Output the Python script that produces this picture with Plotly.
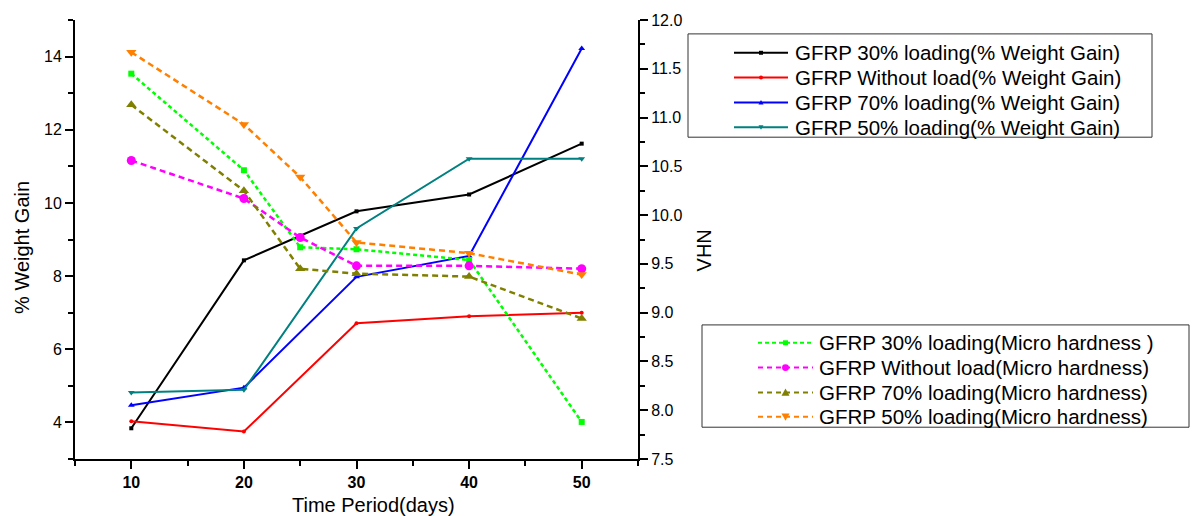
import plotly.graph_objects as go

# Sampling days
days_weight = [10, 20, 30, 40, 50]
days_hardness = [10, 20, 25, 30, 40, 50]

# % weight gain (left axis)
wg_30 = [3.84, 8.43, 9.77, 10.23, 11.62]
wg_none = [4.03, 3.75, 6.71, 6.90, 7.00]
wg_70 = [4.47, 4.95, 7.98, 8.55, 14.22]
wg_50 = [4.82, 4.89, 9.30, 11.21, 11.21]

# Micro hardness, VHN (right axis)
mh_30 = [11.45, 10.46, 9.67, 9.65, 9.54, 7.88]
mh_none = [10.56, 10.17, 9.77, 9.48, 9.48, 9.45]
mh_70 = [11.13, 10.25, 9.45, 9.40, 9.37, 8.94]
mh_50 = [11.67, 10.93, 10.39, 9.72, 9.61, 9.39]

FONT = "Liberation Sans, Arial, sans-serif"

# plot area in pixels (for paper-coordinate placement)
L, R, T, B = 75, 638, 17, 459
W, H = 1193, 516


def px(xp):
    return (xp - L) / (R - L)


def py(yp):
    return (B - yp) / (B - T)


fig = go.Figure()

weight_series = [
    ("GFRP 30% loading(% Weight Gain)", wg_30, "#000000", "square", 4),
    ("GFRP Without load(% Weight Gain)", wg_none, "#FF0000", "circle", 4),
    ("GFRP 70% loading(% Weight Gain)", wg_70, "#0000FF", "triangle-up", 6),
    ("GFRP 50% loading(% Weight Gain)", wg_50, "#008080", "triangle-down", 6),
]
for name, vals, color, sym, size in weight_series:
    fig.add_trace(go.Scatter(
        x=days_weight, y=vals, name=name, mode="lines+markers",
        line=dict(color=color, width=2),
        marker=dict(symbol=sym, size=size, color=color),
        yaxis="y",
    ))

hardness_series = [
    ("GFRP 30% loading(Micro hardness )", mh_30, "#00FF00", "square", 6, "4px,3px"),
    ("GFRP Without load(Micro hardness)", mh_none, "#FF00FF", "circle", 9, "6px,4px"),
    ("GFRP 70% loading(Micro hardness)", mh_70, "#808000", "triangle-up", 9, "6px,4px"),
    ("GFRP 50% loading(Micro hardness)", mh_50, "#FF8000", "triangle-down", 9, "6px,4px"),
]
for name, vals, color, sym, size, dash in hardness_series:
    fig.add_trace(go.Scatter(
        x=days_hardness, y=vals, name=name, mode="lines+markers",
        line=dict(color=color, width=2.5, dash=dash),
        marker=dict(symbol=sym, size=size, color=color),
        yaxis="y2",
    ))

axis_common = dict(
    showline=True, linecolor="black", linewidth=2,
    ticks="outside", tickcolor="black", tickwidth=2, ticklen=8,
    showgrid=False, zeroline=False,
    tickfont=dict(family=FONT, size=16, color="#000000"),
)

fig.update_layout(
    width=W, height=H,
    margin=dict(l=L, r=W - R, t=T, b=H - B, pad=0),
    paper_bgcolor="white", plot_bgcolor="white",
    font=dict(family=FONT, color="#000000"),
    showlegend=False,
    xaxis=dict(
        range=[5, 55], tick0=0, dtick=10,
        minor=dict(dtick=5, ticklen=5, tickwidth=2, tickcolor="black", ticks="outside"),
        **{**axis_common, "tickfont": dict(family=FONT, size=16, color="#000000", weight="bold")},
    ),
    yaxis=dict(
        range=[3, 15], tick0=0, dtick=2,
        minor=dict(dtick=1, ticklen=5, tickwidth=2, tickcolor="black", ticks="outside"),
        **axis_common,
    ),
    yaxis2=dict(
        range=[7.5, 12.0], tick0=7.5, dtick=0.5, tickformat=".1f",
        overlaying="y", side="right",
        minor=dict(dtick=0.25, ticklen=5, tickwidth=2, tickcolor="black", ticks="outside"),
        **axis_common,
    ),
)


def marker_shape(sym, cx, cy, s, color):
    """Small legend marker drawn in paper coordinates (s = half size in px)."""
    if sym == "square":
        return dict(type="rect", xref="paper", yref="paper",
                    x0=px(cx - s), x1=px(cx + s), y0=py(cy + s), y1=py(cy - s),
                    line=dict(width=0), fillcolor=color)
    if sym == "circle":
        return dict(type="circle", xref="paper", yref="paper",
                    x0=px(cx - s), x1=px(cx + s), y0=py(cy + s), y1=py(cy - s),
                    line=dict(width=0), fillcolor=color)
    d = -1 if sym == "triangle-up" else 1
    pts = [(cx, cy + d * s), (cx - s, cy - d * s * 0.8), (cx + s, cy - d * s * 0.8)]
    path = "M {} {} L {} {} L {} {} Z".format(
        px(pts[0][0]), py(pts[0][1]), px(pts[1][0]), py(pts[1][1]),
        px(pts[2][0]), py(pts[2][1]))
    return dict(type="path", xref="paper", yref="paper", path=path,
                line=dict(width=0), fillcolor=color)


legend_font = dict(family=FONT, size=20.5, color="#000000")


def draw_legend(entries, box, x_line0, x_line1, x_text, y_rows, width, dashes, msizes):
    x0, y0, x1, y1 = box
    fig.add_shape(type="rect", xref="paper", yref="paper",
                  x0=px(x0), x1=px(x1), y0=py(y1), y1=py(y0),
                  line=dict(color="#333333", width=1), fillcolor="rgba(0,0,0,0)")
    for (name, color, sym), yr, dash, ms in zip(entries, y_rows, dashes, msizes):
        fig.add_shape(type="line", xref="paper", yref="paper",
                      x0=px(x_line0), x1=px(x_line1), y0=py(yr), y1=py(yr),
                      line=dict(color=color, width=width, dash=dash))
        fig.add_shape(marker_shape(sym, (x_line0 + x_line1) / 2, yr, ms, color))
        fig.add_annotation(text=name, xref="paper", yref="paper",
                           x=px(x_text), y=py(yr), xanchor="left", yanchor="middle",
                           showarrow=False, font=legend_font)


draw_legend(
    [(n, c, s) for n, _, c, s, _ in weight_series],
    box=(688, 31, 1152, 135), x_line0=734, x_line1=788, x_text=793,
    y_rows=[50, 75, 100, 125], width=2,
    dashes=["solid"] * 4, msizes=[2, 2, 2.5, 2.5],
)
draw_legend(
    [(n, c, s) for n, _, c, s, _, _ in hardness_series],
    box=(702, 324, 1189, 427), x_line0=758, x_line1=813, x_text=817,
    y_rows=[342, 367, 392, 416.5], width=2,
    dashes=["4px,3px", "5px,4px", "5px,4px", "5px,4px"], msizes=[2.5, 3.5, 4, 4],
)

# Axis titles
title_font = dict(family=FONT, size=20, color="#000000")
fig.add_annotation(text="Time Period(days)", xref="paper", yref="paper",
                   x=px(373), y=py(505), xanchor="center", yanchor="middle",
                   showarrow=False, font=title_font)
fig.add_annotation(text="% Weight Gain", xref="paper", yref="paper",
                   x=px(22), y=py(246.5), xanchor="center", yanchor="middle",
                   textangle=-90, showarrow=False, font=title_font)
fig.add_annotation(text="VHN", xref="paper", yref="paper",
                   x=px(704), y=py(249), xanchor="center", yanchor="middle",
                   textangle=-90, showarrow=False, font=title_font)

fig.write_html("out.html")
